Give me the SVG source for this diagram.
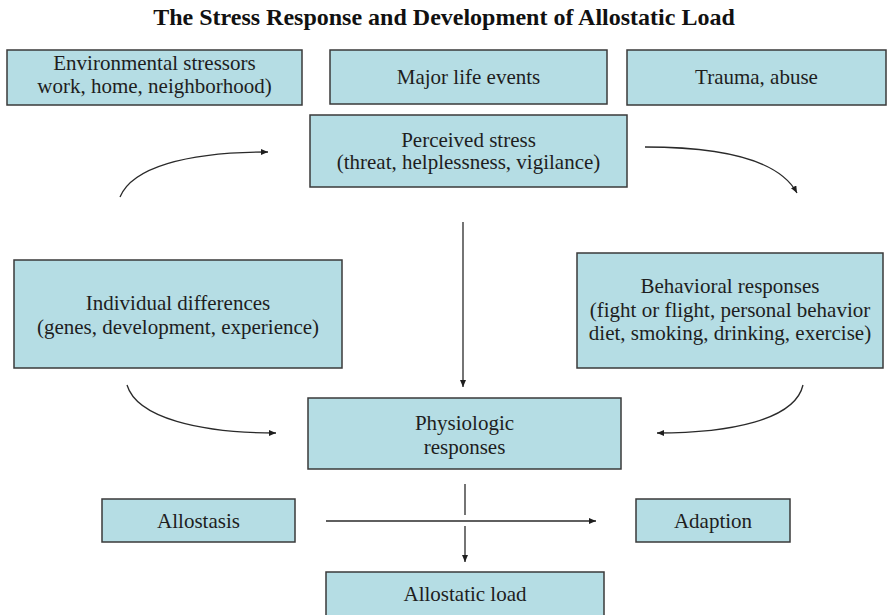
<svg xmlns="http://www.w3.org/2000/svg" width="888" height="615" viewBox="0 0 888 615">
  <style>
    .box { fill: #b5dde4; stroke: #3a3a3a; stroke-width: 1.5; }
    .lbl { font-family: "Liberation Serif", "Times New Roman", serif; font-size: 21px; fill: #1e1e1e; text-anchor: middle; }
    .title { font-family: "Liberation Serif", "Times New Roman", serif; font-size: 24px; font-weight: bold; fill: #111; text-anchor: middle; }
    .edge { fill: none; stroke: #2a2a2a; stroke-width: 1.3; }
  </style>
  <defs>
    <marker id="arrow" markerUnits="userSpaceOnUse" markerWidth="8" markerHeight="8" refX="7" refY="3" orient="auto">
      <path d="M0,0 L7,3 L0,6 Z" fill="#1e1e1e"/>
    </marker>
  </defs>

  <rect width="888" height="615" fill="#ffffff"/>

  <text class="title" x="444" y="25">The Stress Response and Development of Allostatic Load</text>

  <g id="environmental-stressors">
    <rect class="box" x="7" y="50" width="295" height="55"/>
    <text class="lbl" x="154.5" y="70" font-size="20.5">Environmental stressors</text>
    <text class="lbl" x="154.5" y="93" font-size="20.5">work, home, neighborhood)</text>
  </g>

  <g id="major-life-events">
    <rect class="box" x="330" y="50" width="277" height="54"/>
    <text class="lbl" x="468.5" y="84">Major life events</text>
  </g>

  <g id="trauma-abuse">
    <rect class="box" x="627" y="50" width="259" height="55"/>
    <text class="lbl" x="756.5" y="84">Trauma, abuse</text>
  </g>

  <g id="perceived-stress">
    <rect class="box" x="310" y="115" width="317" height="72"/>
    <text class="lbl" x="468.5" y="147">Perceived stress</text>
    <text class="lbl" x="468.5" y="169">(threat, helplessness, vigilance)</text>
  </g>

  <g id="individual-differences">
    <rect class="box" x="14" y="260" width="328" height="108"/>
    <text class="lbl" x="178" y="310">Individual differences</text>
    <text class="lbl" x="178" y="334">(genes, development, experience)</text>
  </g>

  <g id="behavioral-responses">
    <rect class="box" x="577" y="253" width="306" height="115"/>
    <text class="lbl" x="730" y="293">Behavioral responses</text>
    <text class="lbl" x="730" y="317">(fight or flight, personal behavior</text>
    <text class="lbl" x="730" y="340">diet, smoking, drinking, exercise)</text>
  </g>

  <g id="physiologic-responses">
    <rect class="box" x="308" y="398" width="313" height="71"/>
    <text class="lbl" x="464.5" y="430">Physiologic</text>
    <text class="lbl" x="464.5" y="454">responses</text>
  </g>

  <g id="allostasis">
    <rect class="box" x="102" y="499" width="193" height="43"/>
    <text class="lbl" x="198.5" y="528">Allostasis</text>
  </g>

  <g id="adaption">
    <rect class="box" x="636" y="499" width="154" height="43"/>
    <text class="lbl" x="713" y="528">Adaption</text>
  </g>

  <g id="allostatic-load">
    <rect class="box" x="326" y="572" width="278" height="70"/>
    <text class="lbl" x="465" y="601">Allostatic load</text>
  </g>

  <g id="connectors">
    <path class="edge" d="M120,197 C132,168 185,152 268,152" marker-end="url(#arrow)"/>
    <path class="edge" d="M645,147 C715,147 778,158 797,193" marker-end="url(#arrow)"/>
    <path class="edge" d="M463,222 L463,387" marker-end="url(#arrow)"/>
    <path class="edge" d="M127,385 C137,418 200,433 276,433" marker-end="url(#arrow)"/>
    <path class="edge" d="M803,385 C795,420 730,433 657,433" marker-end="url(#arrow)"/>
    <path class="edge" d="M465,484 L465,515"/>
    <path class="edge" d="M465,526 L465,562" marker-end="url(#arrow)"/>
    <path class="edge" d="M326,521 L596,521" stroke-width="1.6" marker-end="url(#arrow)"/>
  </g>
</svg>
